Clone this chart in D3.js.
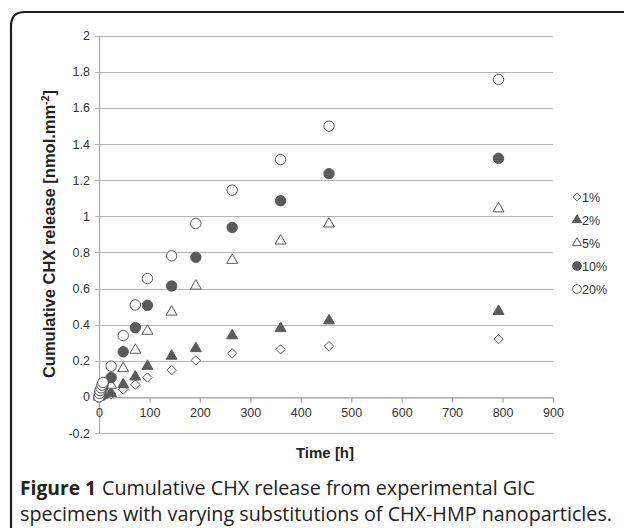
<!DOCTYPE html>
<html>
<head>
<meta charset="utf-8">
<script src="https://cdn.jsdelivr.net/npm/d3@7"></script>
<style>
  html, body { margin: 0; padding: 0; background: #fff; }
  svg { display: block; }
</style>
</head>
<body>
<svg id="chart" width="624" height="528"></svg>
<script>
// ---- data ----
const times = [0, 1, 2, 4, 6, 8, 24, 48, 72, 96, 144, 192, 264, 360, 456, 792];
const seriesNames = ["1%", "2%", "5%", "10%", "20%"];
const s1  = [0, 0.002, 0.004, 0.006, 0.008, 0.010, 0.015, 0.041, 0.068, 0.107, 0.148, 0.202, 0.241, 0.263, 0.281, 0.320];
const s2  = [0, 0.003, 0.005, 0.008, 0.010, 0.012, 0.019, 0.068, 0.111, 0.170, 0.226, 0.268, 0.339, 0.379, 0.422, 0.474];
const s5  = [0, 0.010, 0.020, 0.030, 0.040, 0.050, 0.065, 0.157, 0.259, 0.364, 0.470, 0.614, 0.757, 0.864, 0.958, 1.042];
const s10 = [0, 0.015, 0.025, 0.040, 0.050, 0.060, 0.107, 0.250, 0.383, 0.507, 0.614, 0.773, 0.938, 1.086, 1.236, 1.321];
const s20 = [0, 0.020, 0.035, 0.050, 0.065, 0.080, 0.170, 0.339, 0.509, 0.655, 0.781, 0.960, 1.145, 1.314, 1.499, 1.758];
const seriesValues = [s1, s2, s5, s10, s20];
const xTicks = [0, 100, 200, 300, 400, 500, 600, 700, 800, 900];
const yTicks = [-0.2, 0, 0.2, 0.4, 0.6, 0.8, 1, 1.2, 1.4, 1.6, 1.8, 2];
const yTickLabels = ["-0.2", "0", "0.2", "0.4", "0.6", "0.8", "1", "1.2", "1.4", "1.6", "1.8", "2"];
const captionBold = "Figure 1";
const captionLine1 = "Cumulative CHX release from experimental GIC";
const captionLine2 = "specimens with varying substitutions of CHX-HMP nanoparticles.";

// ---- layout ----
const svg = d3.select("#chart");
const plot = { left: 99, right: 553, top: 35.7, bottom: 433 };
const x = d3.scaleLinear().domain([0, 900]).range([plot.left, plot.right]);
const y = d3.scaleLinear().domain([-0.2, 2]).range([plot.bottom, plot.top]);

const markGray = "#5a5a5a";
const gridGray = "#b4b4b4";
const axisGray = "#a6a6a6";
const textCol = "#333";
const font = "'Liberation Sans', Arial, sans-serif";

// frame
const r = 14;
svg.append("path")
  .attr("d", `M11,528 L11,${12 + r} Q11,12 ${11 + r},12 L626,12`)
  .attr("fill", "none").attr("stroke", "#1e1e1e").attr("stroke-width", 2.2);

// gridlines
svg.append("g").selectAll("line").data(yTicks).join("line")
  .attr("x1", plot.left - 4).attr("x2", plot.right)
  .attr("y1", d => Math.round(y(d)) + 0.5).attr("y2", d => Math.round(y(d)) + 0.5)
  .attr("stroke", gridGray).attr("stroke-width", 1.2);

// y axis line
svg.append("line")
  .attr("x1", plot.left + 0.5).attr("x2", plot.left + 0.5)
  .attr("y1", y(2)).attr("y2", y(-0.2))
  .attr("stroke", axisGray).attr("stroke-width", 1.2);

// y tick labels
const yAxis = d3.axisLeft(y).tickValues(yTicks).tickSize(0).tickPadding(9)
  .tickFormat((d, i) => yTickLabels[i]);
const gy = svg.append("g").attr("transform", `translate(${plot.left},0)`).call(yAxis);
gy.select(".domain").remove();
gy.selectAll("text").attr("font-family", font).attr("font-size", 12.5).attr("fill", textCol);

// x axis at y = 0
const xAxis = d3.axisBottom(x).tickValues(xTicks).tickSize(5).tickPadding(6).tickFormat(d3.format("d"));
const gx = svg.append("g").attr("transform", `translate(0,${Math.round(y(0)) + 0.5})`).call(xAxis);
gx.select(".domain").attr("stroke", axisGray).attr("stroke-width", 1.2);
gx.selectAll(".tick line").attr("stroke", axisGray).attr("stroke-width", 1.2);
gx.selectAll("text").attr("font-family", font).attr("font-size", 12.5).attr("fill", textCol);

// symbols
const squareDiamond = {
  draw(ctx, size) {
    const h = Math.sqrt(size / 2);
    ctx.moveTo(0, -h); ctx.lineTo(h, 0); ctx.lineTo(0, h); ctx.lineTo(-h, 0); ctx.closePath();
  }
};
const styles = [
  { type: squareDiamond, size: 44, fill: "#fff", stroke: markGray },
  { type: d3.symbolTriangle, size: 52, fill: markGray, stroke: markGray },
  { type: d3.symbolTriangle, size: 52, fill: "#fff", stroke: markGray },
  { type: d3.symbolCircle, size: 85, fill: markGray, stroke: markGray },
  { type: d3.symbolCircle, size: 85, fill: "#fff", stroke: markGray }
];

const gPts = svg.append("g");
seriesValues.forEach((vals, si) => {
  const st = styles[si];
  const sym = d3.symbol().type(st.type).size(st.size);
  gPts.append("g").selectAll("path").data(vals.map((v, i) => [times[i], v])).join("path")
    .attr("d", sym)
    .attr("transform", d => `translate(${x(d[0])},${y(d[1])})`)
    .attr("fill", st.fill).attr("stroke", st.stroke).attr("stroke-width", 1);
});

// legend
const legY0 = 197, legDy = 23;
const leg = svg.append("g");
seriesNames.forEach((name, i) => {
  const st = styles[i];
  const g = leg.append("g").attr("transform", `translate(577,${legY0 + i * legDy})`);
  g.append("path").attr("d", d3.symbol().type(st.type).size(st.size * 0.7))
    .attr("fill", st.fill).attr("stroke", st.stroke).attr("stroke-width", 1);
  g.append("text").attr("x", 5).attr("y", 4.5)
    .attr("font-family", font).attr("font-size", 12.5).attr("fill", textCol).text(name);
});

// axis titles
svg.append("text")
  .attr("x", x(450) - 1).attr("y", 458)
  .attr("text-anchor", "middle")
  .attr("font-family", font).attr("font-size", 15).attr("font-weight", "bold").attr("fill", "#222")
  .text("Time [h]");

const yt = svg.append("text")
  .attr("transform", `translate(55,${234}) rotate(-90)`)
  .attr("text-anchor", "middle")
  .attr("font-family", font).attr("font-size", 16.5).attr("font-weight", "bold").attr("fill", "#222");
yt.append("tspan").text("Cumulative CHX release [nmol.mm");
yt.append("tspan").attr("dy", -6).attr("font-size", 10.5).text("-2");
yt.append("tspan").attr("dy", 6).text("]");

// caption
const capFont = "'Open Sans', 'Noto Sans', sans-serif";
svg.append("text").attr("x", 20).attr("y", 495)
  .attr("font-family", capFont).attr("font-size", 20).attr("font-weight", "bold").attr("fill", "#222")
  .attr("textLength", 76).attr("lengthAdjust", "spacingAndGlyphs")
  .text(captionBold);
svg.append("text").attr("x", 102).attr("y", 495)
  .attr("font-family", capFont).attr("font-size", 20).attr("fill", "#222")
  .attr("textLength", 433).attr("lengthAdjust", "spacingAndGlyphs")
  .text(captionLine1);
svg.append("text").attr("x", 20).attr("y", 521)
  .attr("font-family", capFont).attr("font-size", 20).attr("fill", "#222")
  .attr("textLength", 592).attr("lengthAdjust", "spacingAndGlyphs")
  .text(captionLine2);
</script>
</body>
</html>
